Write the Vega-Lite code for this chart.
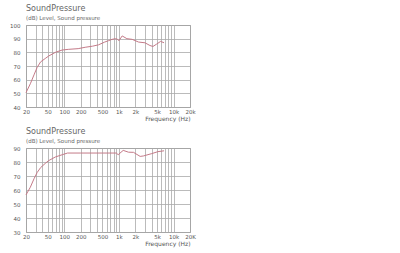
{
  "$schema": "https://vega.github.io/schema/vega-lite/v6.json",
  "background": "white",
  "padding": {"left": 9, "top": 4, "right": 2, "bottom": 2},
  "spacing": 5,
  "config": {
    "font": "DejaVu Sans",
    "view": {"stroke": "#999", "strokeWidth": 1},
    "axis": {
      "grid": true, "gridColor": "#aaa", "gridWidth": 0.8, "domain": false, "ticks": false,
      "labelFont": "DejaVu Sans", "labelFontSize": 5.5, "labelColor": "#555", "labelPadding": 2,
      "labelOverlap": false, "labelBound": false, "labelFlush": false,
      "titleFont": "DejaVu Sans", "titleFontSize": 6, "titleColor": "#555", "titleFontWeight": "normal"
    },
    "title": {
      "anchor": "start", "frame": "group", "font": "DejaVu Sans", "fontSize": 8, "fontWeight": "normal",
      "color": "#666", "subtitleFont": "DejaVu Sans", "subtitleFontSize": 5.5, "subtitleColor": "#666",
      "subtitlePadding": 3, "offset": 2
    }
  },
  "datasets": {
    "top": [
      {"f": 20, "db": 50.5}, {"f": 24, "db": 57}, {"f": 28, "db": 63.5}, {"f": 32, "db": 69},
      {"f": 37, "db": 73}, {"f": 45, "db": 75.5}, {"f": 52, "db": 77.3}, {"f": 69, "db": 80},
      {"f": 92, "db": 81.7}, {"f": 121, "db": 82.2}, {"f": 180, "db": 82.7}, {"f": 242, "db": 83.7},
      {"f": 330, "db": 84.5}, {"f": 425, "db": 85.5}, {"f": 550, "db": 87.5}, {"f": 643, "db": 88.5},
      {"f": 750, "db": 89.5}, {"f": 870, "db": 90}, {"f": 950, "db": 89.5}, {"f": 1000, "db": 88.5},
      {"f": 1150, "db": 92}, {"f": 1400, "db": 90}, {"f": 1750, "db": 89.5}, {"f": 2300, "db": 87.5},
      {"f": 3000, "db": 87}, {"f": 3700, "db": 85}, {"f": 4200, "db": 84.3}, {"f": 4900, "db": 86},
      {"f": 5800, "db": 88}, {"f": 6700, "db": 87}
    ],
    "bottom": [
      {"f": 20, "db": 56.5}, {"f": 24, "db": 62}, {"f": 28, "db": 68}, {"f": 32, "db": 72.5},
      {"f": 37, "db": 76}, {"f": 45, "db": 79}, {"f": 52, "db": 81}, {"f": 69, "db": 83.6},
      {"f": 92, "db": 85.2}, {"f": 115, "db": 86.4}, {"f": 200, "db": 86.4}, {"f": 500, "db": 86.4},
      {"f": 900, "db": 86.4}, {"f": 970, "db": 85.2}, {"f": 1200, "db": 88.3}, {"f": 1500, "db": 87},
      {"f": 1850, "db": 86.9}, {"f": 2450, "db": 84}, {"f": 2800, "db": 84.3}, {"f": 4000, "db": 86},
      {"f": 5200, "db": 87.4}, {"f": 6700, "db": 88}
    ]
  },
  "vconcat": [
    {
      "title": {"text": "SoundPressure", "subtitle": "(dB)  Level, Sound pressure"},
      "width": 164, "height": 82,
      "data": {"name": "top"},
      "mark": {"type": "line", "color": "#c47a88", "strokeWidth": 1},
      "encoding": {
        "x": {"field": "f", "type": "quantitative",
          "scale": {"type": "log", "domain": [20, 20000], "nice": false},
          "axis": {"title": "Frequency  (Hz)", "titleAnchor": "end", "titlePadding": 1,
            "values": [20,30,40,50,60,70,80,90,100,200,300,400,500,600,700,800,900,1000,2000,3000,4000,5000,6000,7000,8000,9000,10000,20000],
            "labelExpr": "indexof([20,50,100,200,500,1000,2000,5000,10000,20000], datum.value) >= 0 ? (datum.value >= 1000 ? (datum.value/1000) + 'k' : '' + datum.value) : ''"}},
        "y": {"field": "db", "type": "quantitative",
          "scale": {"domain": [40, 100], "nice": false, "zero": false},
          "axis": {"title": null, "values": [40,50,60,70,80,90,100], "labelPadding": 6}}
      }
    },
    {
      "title": {"text": "SoundPressure", "subtitle": "(dB)  Level, Sound pressure"},
      "width": 164, "height": 84,
      "data": {"name": "bottom"},
      "mark": {"type": "line", "color": "#c47a88", "strokeWidth": 1},
      "encoding": {
        "x": {"field": "f", "type": "quantitative",
          "scale": {"type": "log", "domain": [20, 20000], "nice": false},
          "axis": {"title": "Frequency  (Hz)", "titleAnchor": "end", "titlePadding": 1,
            "values": [20,30,40,50,60,70,80,90,100,200,300,400,500,600,700,800,900,1000,2000,3000,4000,5000,6000,7000,8000,9000,10000,20000],
            "labelExpr": "indexof([20,50,100,200,500,1000,2000,5000,10000,20000], datum.value) >= 0 ? (datum.value >= 20000 ? '20K' : datum.value >= 1000 ? (datum.value/1000) + 'k' : '' + datum.value) : ''"}},
        "y": {"field": "db", "type": "quantitative",
          "scale": {"domain": [30, 90], "nice": false, "zero": false},
          "axis": {"title": null, "values": [30,40,50,60,70,80,90], "labelPadding": 6}}
      }
    }
  ]
}
